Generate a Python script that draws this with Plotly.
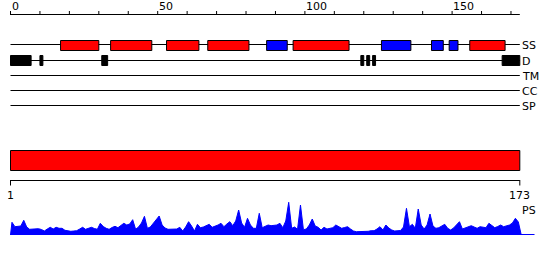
import plotly.graph_objects as go

# ---------------- data ----------------
seq_len = 173
ruler_ticks = list(range(0, 171, 10))
ruler_labels = {0: "0", 50: "50", 100: "100", 150: "150"}
end_labels = ["1", "173"]
track_names = ["SS", "D", "TM", "CC", "SP"]

helix = [(18, 30), (35, 48), (54, 64), (68, 81), (97, 115), (157, 168)]
strand = [(88, 94), (127, 136), (144, 147), (150, 152)]
disorder = [(1, 7), (11, 11), (32, 33), (120, 120), (122, 122), (124, 124), (168, 173)]
domains = [(1, 173)]

ps_score = [
    12.7, 8.3, 8.3, 9, 14.7, 8, 5.7, 5.7, 5.7, 6.3,
    5.5, 4, 6, 7.7, 6, 7.7, 6.7, 6.7, 4.7, 4,
    3.7, 4, 4.3, 6, 7.7, 5.7, 6.5, 7.7, 6.5, 5.7,
    11.7, 8.5, 6.7, 5.7, 7.5, 8.7, 7.3, 9.5, 11.7, 10,
    11, 15.3, 5.7, 8, 12, 18.7, 6.7, 8, 12, 16,
    19, 10, 7, 5.7, 6, 6, 6, 7.7, 4, 8,
    13.3, 9, 4, 10.7, 7.3, 8, 9.5, 10.7, 7.7, 8.5,
    10, 11.7, 8.3, 11, 13.3, 9.3, 14, 25, 12, 7.7,
    16.7, 10, 6.7, 6.7, 21.7, 7.3, 9, 10, 9.3, 9.3,
    10, 11.7, 7.3, 14, 32.7, 6.7, 8, 5.7, 30, 5.3,
    6, 10, 16, 9, 7.7, 5, 7.7, 6, 6.5, 7.3,
    10, 8, 6.7, 7.5, 8.3, 6, 4, 3.3, 3.3, 3,
    3.3, 3.7, 4.3, 4.3, 6, 8.3, 5, 10, 7, 5,
    4, 4, 4.5, 8, 26.7, 8.3, 10.7, 6.7, 26, 10,
    6, 10, 21, 9, 6.7, 7.3, 9, 10.7, 6.7, 5,
    7, 10, 13.3, 6, 7, 8.3, 9.3, 8, 6.7, 8.3,
    7.7, 7.3, 11.7, 9, 7.3, 8.5, 10, 8.3, 9, 10,
    12, 16.7, 13,
]

# ---------------- layout constants (pixel rows) ----------------
W, H = 550, 260
px_per_res = 2.944
x_origin_px = 10.5
row_y = {"SS": 44.5, "D": 60.5, "TM": 75.5, "CC": 90.5, "SP": 105.5}
FONT = dict(family="DejaVu Sans", size=11, color="black")

fig = go.Figure()


def seg_bar(segs, yc, height, color):
    return go.Bar(
        orientation="h",
        base=[s - 1 for s, e in segs],
        x=[e - s + 1 for s, e in segs],
        y=[yc] * len(segs),
        width=height,
        marker=dict(color=color, line=dict(color="black", width=1)),
        hoverinfo="skip",
        xaxis="x",
        yaxis="y",
    )


fig.add_trace(seg_bar(helix, row_y["SS"] + 1, 10, "#ff0000"))
fig.add_trace(seg_bar(strand, row_y["SS"] + 1, 10, "#0000ff"))
fig.add_trace(seg_bar(disorder, row_y["D"], 10, "#000000"))
fig.add_trace(seg_bar(domains, 160.5, 20, "#ff0000"))

# PS profile
ps_x = [0] + [i + 0.5 for i in range(seq_len)] + [seq_len + 0.5]
ps_y = [0] + ps_score + [0]
fig.add_trace(go.Scatter(
    x=ps_x, y=ps_y, mode="lines", fill="tozeroy",
    fillcolor="#0000ff", line=dict(color="#0000ff", width=1),
    xaxis="x", yaxis="y2", hoverinfo="skip",
))

shapes = []
# track lines
for name in track_names:
    shapes.append(dict(type="line", xref="x", yref="y", x0=0, x1=seq_len,
                       y0=row_y[name], y1=row_y[name],
                       line=dict(color="black", width=1), layer="below"))
# top ruler
shapes.append(dict(type="line", xref="x", yref="y", x0=0, x1=seq_len, y0=14.5, y1=14.5,
                   line=dict(color="black", width=1)))
for t in ruler_ticks:
    shapes.append(dict(type="line", xref="x", yref="y", x0=t, x1=t, y0=11, y1=15,
                       line=dict(color="black", width=1)))
# bottom ruler
shapes.append(dict(type="line", xref="x", yref="y", x0=0, x1=seq_len, y0=180.5, y1=180.5,
                   line=dict(color="black", width=1)))
for t in (0, seq_len):
    shapes.append(dict(type="line", xref="x", yref="y", x0=t, x1=t, y0=180, y1=185.5,
                       line=dict(color="black", width=1)))
# PS baseline
shapes.append(dict(type="line", xref="x", yref="y2", x0=0, x1=seq_len + 5, y0=0.5, y1=0.5,
                   line=dict(color="#0000ff", width=1), layer="below"))

annotations = []
for t, lab in ruler_labels.items():
    annotations.append(dict(x=t, y=0, xref="x", yref="y", text=lab, showarrow=False,
                            xanchor="left", yanchor="top", yshift=1.5, font=FONT, borderpad=0))
for name in track_names:
    annotations.append(dict(x=seq_len + 0.4, y=row_y[name] + 0.5, xref="x", yref="y",
                            text=name, showarrow=False, xanchor="left", yanchor="middle",
                            font=FONT, borderpad=0))
annotations.append(dict(x=0, y=195.5, xref="x", yref="y", text=end_labels[0], showarrow=False,
                        xanchor="center", yanchor="middle", font=FONT, borderpad=0))
annotations.append(dict(x=seq_len, y=195.5, xref="x", yref="y", text=end_labels[1], showarrow=False,
                        xanchor="center", yanchor="middle", font=FONT, borderpad=0))
annotations.append(dict(x=seq_len + 0.4, y=210.5, xref="x", yref="y", text="PS", showarrow=False,
                        xanchor="left", yanchor="middle", font=FONT, borderpad=0))

x_min = -x_origin_px / px_per_res
x_max = (W - x_origin_px) / px_per_res
fig.update_layout(
    width=W, height=H,
    margin=dict(l=0, r=0, t=0, b=0, pad=0),
    paper_bgcolor="white", plot_bgcolor="white",
    showlegend=False, barmode="overlay",
    xaxis=dict(range=[x_min, x_max], domain=[0, 1], visible=False, fixedrange=True),
    yaxis=dict(range=[H, 0], domain=[0, 1], visible=False, fixedrange=True),
    yaxis2=dict(range=[0, 35], domain=[25 / H, 60 / H], anchor="x", visible=False, fixedrange=True),
    shapes=shapes,
    annotations=annotations,
)

fig.write_html("out.html")
